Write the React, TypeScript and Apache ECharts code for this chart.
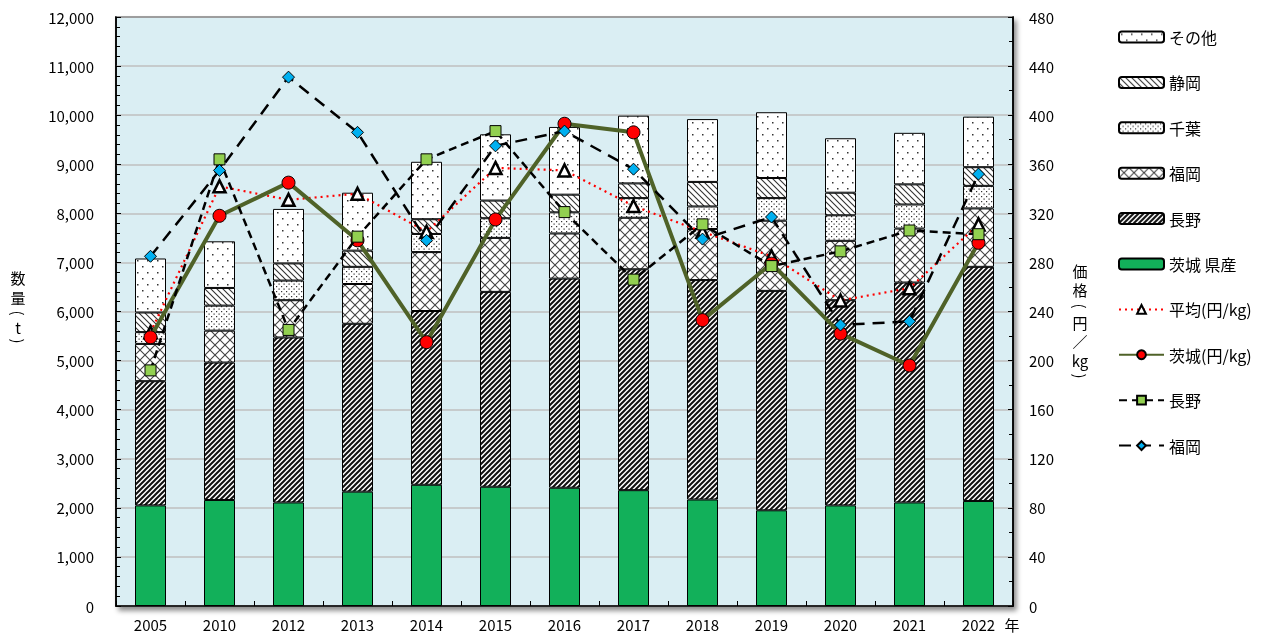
import React, { useEffect, useRef } from "react";
import * as echarts from "echarts";

const years = ["2005", "2010", "2012", "2013", "2014", "2015", "2016", "2017", "2018", "2019", "2020", "2021", "2022"];
const ibarakiQty = [2050, 2160, 2110, 2330, 2470, 2430, 2410, 2360, 2170, 1950, 2050, 2110, 2140];
const naganoQty = [2530, 2800, 3360, 3420, 3540, 3970, 4260, 4500, 4470, 4470, 4180, 4480, 4770];
const fukuokaQty = [760, 650, 760, 810, 1200, 1100, 920, 1050, 1040, 1430, 1210, 1100, 1190];
const chibaQty = [240, 510, 400, 350, 370, 400, 430, 400, 460, 460, 520, 490, 460];
const shizuokaQty = [400, 360, 350, 330, 300, 360, 360, 300, 500, 410, 460, 410, 380];
const otherQty = [1100, 950, 1110, 1180, 1170, 1350, 1380, 1380, 1280, 1340, 1110, 1050, 1030];

const avgPrice = [223, 342, 331, 336, 305, 357, 355, 326, 305, 285, 249, 259, 311];
const ibarakiPrice = [219, 318, 345, 298, 215, 315, 393, 386, 233, 279, 222, 196, 296];
const naganoPrice = [192, 364, 225, 301, 364, 387, 321, 266, 311, 277, 289, 306, 303];
const fukuokaPrice = [285, 355, 431, 386, 298, 375, 387, 356, 299, 317, 229, 232, 352];

const leftTicks = [0, 12000, 1000];
const rightTicks = [0, 480, 40];

const legendLabels: Record<string, string> = {
  "その他": "その他",
  "静岡": "静岡",
  "千葉": "千葉",
  "福岡": "福岡",
  "長野": "長野",
  "茨城 県産": "茨城 県産",
  "平均(円/kg)": "平均(円/kg)",
  "茨城(円/kg)": "茨城(円/kg)",
  "長野価格": "長野",
  "福岡価格": "福岡",
};

const FONT = "'Noto Sans CJK JP', 'Noto Sans', sans-serif";

function makePattern(kind: string): HTMLCanvasElement {
  const c = document.createElement("canvas");
  let w = 10, h = 10;
  if (kind === "nagano") { w = 5; h = 5; }
  if (kind === "shizuoka") { w = 6; h = 6; }
  if (kind === "chiba") { w = 5; h = 5; }
  if (kind === "fukuoka") { w = 10; h = 10; }
  if (kind === "other") { w = 10; h = 12; }
  c.width = w; c.height = h;
  const g = c.getContext("2d")!;
  g.fillStyle = "#ffffff";
  g.fillRect(0, 0, w, h);
  g.strokeStyle = "#111";
  g.fillStyle = "#222";
  if (kind === "nagano") {
    g.lineWidth = 2;
    g.beginPath();
    for (let k = -1; k <= 1; k++) {
      g.moveTo(k * w - 1, h + 1);
      g.lineTo(k * w + w + 1, -1);
    }
    g.stroke();
  } else if (kind === "shizuoka") {
    g.lineWidth = 1.1;
    g.strokeStyle = "#333";
    g.beginPath();
    for (let k = -1; k <= 1; k++) {
      g.moveTo(k * w - 1, -1);
      g.lineTo(k * w + w + 1, h + 1);
    }
    g.stroke();
  } else if (kind === "fukuoka") {
    g.lineWidth = 1.1;
    g.strokeStyle = "#444";
    g.beginPath();
    g.moveTo(0, 0); g.lineTo(w, h);
    g.moveTo(w, 0); g.lineTo(0, h);
    g.stroke();
  } else if (kind === "chiba") {
    g.fillStyle = "#333";
    g.fillRect(1, 1, 1.2, 1.2);
    g.fillRect(3.5, 3.5, 1.2, 1.2);
  } else if (kind === "other") {
    g.fillStyle = "#333";
    g.fillRect(2, 2, 1.5, 1.5);
    g.fillRect(7, 8, 1.5, 1.5);
  }
  return c;
}

export default function App() {
  const ref = useRef<HTMLDivElement>(null);
  useEffect(() => {
    if (!ref.current) return;
    const chart = echarts.init(ref.current, null, { renderer: "svg" });
    const pat = (k: string) => ({ image: makePattern(k), repeat: "repeat" });
    const barBase = {
      type: "bar",
      stack: "qty",
      barWidth: 31,
      yAxisIndex: 0,
    };
    const border = { borderColor: "#000", borderWidth: 1 };
    const txt = (t: string, x: number, y: number, rot = 0, size = 15) => ({
      type: "text",
      x,
      y,
      rotation: rot,
      style: {
        text: t,
        font: `${size}px ${FONT}`,
        lineHeight: size,
        fill: "#000",
        align: "center",
        verticalAlign: "middle",
      },
    });
    const option: any = {
      animation: false,
      textStyle: { fontFamily: FONT },
      grid: {
        left: 116,
        right: 258,
        top: 17,
        bottom: 28,
        show: true,
        backgroundColor: "#DAEEF3",
        borderColor: "#000",
        borderWidth: 1.5,
        shadowBlur: 5,
        shadowColor: "rgba(0,0,0,0.45)",
        shadowOffsetX: 3,
        shadowOffsetY: 4,
      },
      legend: {
        orient: "vertical",
        left: 1113,
        top: 24,
        itemWidth: 45,
        itemHeight: 11,
        itemGap: 29.4,
        textStyle: { fontSize: 16, color: "#000", fontFamily: FONT, lineHeight: 16 },
        formatter: (n: string) => legendLabels[n] || n,
        data: ["その他", "静岡", "千葉", "福岡", "長野", "茨城 県産", "平均(円/kg)", "茨城(円/kg)", "長野価格", "福岡価格"],
      },
      xAxis: {
        type: "category",
        data: years,
        boundaryGap: true,
        axisLine: { lineStyle: { color: "#000", width: 1.5 } },
        axisTick: { show: true, inside: true, length: 5, lineStyle: { color: "#000" } },
        axisLabel: { fontSize: 15, color: "#000", margin: 11, fontFamily: FONT, lineHeight: 15 },
      },
      yAxis: [
        {
          type: "value",
          min: leftTicks[0],
          max: leftTicks[1],
          interval: leftTicks[2],
          axisLine: { show: true, lineStyle: { color: "#000", width: 1.5 } },
          axisTick: { show: true, inside: true, length: 5, lineStyle: { color: "#000" } },
          minorTick: { show: true, splitNumber: 5, length: 4, lineStyle: { color: "#000" } },
          splitLine: { show: true, lineStyle: { color: "#BFBFBF", width: 1.5 } },
          axisLabel: {
            fontSize: 15,
            color: "#000",
            margin: 22,
            fontFamily: FONT,
            formatter: (v: number) => v.toLocaleString("en-US"),
          },
        },
        {
          type: "value",
          min: rightTicks[0],
          max: rightTicks[1],
          interval: rightTicks[2],
          position: "right",
          axisLine: { show: true, lineStyle: { color: "#000", width: 1.5 } },
          axisTick: { show: true, inside: true, length: 5, lineStyle: { color: "#000" } },
          minorTick: { show: true, splitNumber: 2, length: 4, lineStyle: { color: "#000" } },
          splitLine: { show: false },
          axisLabel: { fontSize: 15, color: "#000", margin: 16, fontFamily: FONT },
        },
      ],
      series: [
        { ...barBase, name: "茨城 県産", data: ibarakiQty, itemStyle: { color: "#12B05A", ...border } },
        { ...barBase, name: "長野", data: naganoQty, itemStyle: { color: pat("nagano"), ...border } },
        { ...barBase, name: "福岡", data: fukuokaQty, itemStyle: { color: pat("fukuoka"), ...border } },
        { ...barBase, name: "千葉", data: chibaQty, itemStyle: { color: pat("chiba"), ...border } },
        { ...barBase, name: "静岡", data: shizuokaQty, itemStyle: { color: pat("shizuoka"), ...border } },
        { ...barBase, name: "その他", data: otherQty, itemStyle: { color: pat("other"), ...border } },
        {
          type: "line",
          name: "平均(円/kg)",
          yAxisIndex: 1,
          data: avgPrice,
          symbol: "triangle",
          symbolSize: 12,
          lineStyle: { color: "#FF0000", width: 2.2, type: [2, 4] },
          itemStyle: { color: "#FFFFFF", borderColor: "#000", borderWidth: 2.5 },
          z: 3,
        },
        {
          type: "line",
          name: "茨城(円/kg)",
          yAxisIndex: 1,
          data: ibarakiPrice,
          symbol: "circle",
          symbolSize: 13,
          lineStyle: { color: "#4F6228", width: 4 },
          itemStyle: { color: "#FF0000", borderColor: "#000", borderWidth: 1 },
          z: 4,
        },
        {
          type: "line",
          name: "長野価格",
          yAxisIndex: 1,
          data: naganoPrice,
          symbol: "rect",
          symbolSize: 11,
          lineStyle: { color: "#000", width: 2.5, type: [8, 5] },
          itemStyle: { color: "#92D050", borderColor: "#000", borderWidth: 1 },
          z: 5,
        },
        {
          type: "line",
          name: "福岡価格",
          yAxisIndex: 1,
          data: fukuokaPrice,
          symbol: "diamond",
          symbolSize: 12,
          lineStyle: { color: "#000", width: 2.5, type: [12, 8] },
          itemStyle: { color: "#00B0F0", borderColor: "#000", borderWidth: 1 },
          z: 6,
        },
      ],
      graphic: [
        txt("数", 18, 277),
        txt("量", 18, 297),
        txt("(", 18, 313, -Math.PI / 2),
        txt("t", 18, 327),
        txt(")", 18, 341, -Math.PI / 2),
        txt("価", 1080, 270),
        txt("格", 1080, 289),
        txt("(", 1080, 306, -Math.PI / 2),
        txt("円", 1080, 322),
        txt("／", 1080, 341),
        txt("kg", 1080, 360),
        txt(")", 1080, 376, -Math.PI / 2),
        txt("年", 1012, 624),
      ],
    };
    chart.setOption(option);
    return () => chart.dispose();
  }, []);
  return <div ref={ref} style={{ position: "fixed", left: 0, top: 0, width: 1271, height: 634 }} />;
}
